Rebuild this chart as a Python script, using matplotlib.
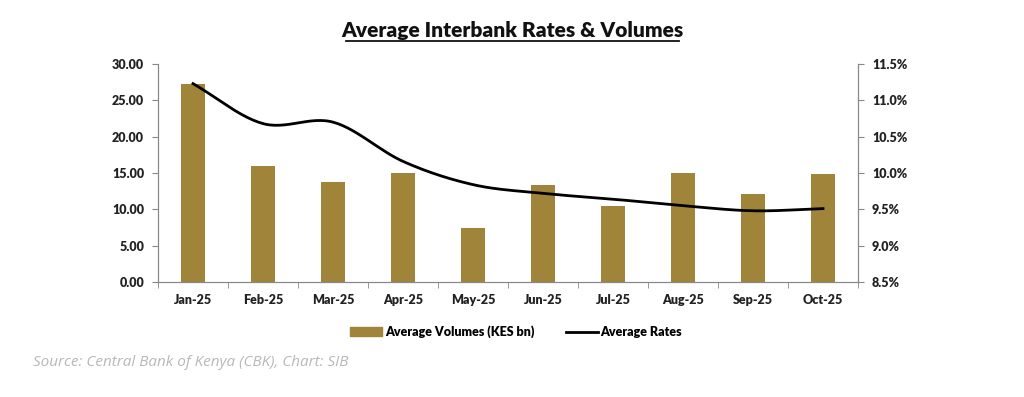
import numpy as np
import matplotlib.pyplot as plt
from matplotlib.ticker import FuncFormatter, MultipleLocator
from matplotlib.lines import Line2D
from matplotlib.patches import Patch


# DATA
months = ["Jan-25", "Feb-25", "Mar-25", "Apr-25", "May-25",
          "Jun-25", "Jul-25", "Aug-25", "Sep-25", "Oct-25"]
volumes = [27.2, 15.9, 13.8, 15.0, 7.4, 13.4, 10.5, 15.0, 12.1, 14.8]
rates = [11.23, 10.68, 10.70, 10.16, 9.84, 9.72, 9.64, 9.55, 9.48, 9.51]

BAR_COLOR = "#a0843a"
FONT = "Lato"


def smooth(x, y, steps=30):
    """Catmull-Rom curve through the points, like an Excel smoothed line."""
    x = np.asarray(x, dtype=float)
    y = np.asarray(y, dtype=float)
    px = np.concatenate([[2 * x[0] - x[1]], x, [2 * x[-1] - x[-2]]])
    py = np.concatenate([[2 * y[0] - y[1]], y, [2 * y[-1] - y[-2]]])
    t = np.linspace(0, 1, steps)
    xs, ys = [], []
    for i in range(1, len(px) - 2):
        for p, out in ((px, xs), (py, ys)):
            p0, p1, p2, p3 = p[i - 1], p[i], p[i + 1], p[i + 2]
            out.extend(0.5 * (2 * p1 + (-p0 + p2) * t
                              + (2 * p0 - 5 * p1 + 4 * p2 - p3) * t ** 2
                              + (-p0 + 3 * p1 - 3 * p2 + p3) * t ** 3))
    return np.array(xs), np.array(ys)


fig = plt.figure(figsize=(10.24, 3.97), dpi=100)
ax1 = fig.add_axes([158 / 1024, 1 - 282 / 397, 700 / 1024, 218 / 397])
ax2 = ax1.twinx()

x = np.arange(len(months))
ax1.bar(x, volumes, width=0.33, color=BAR_COLOR, zorder=2)

sx, sy = smooth(x, rates)
ax2.plot(sx, sy, color="black", linewidth=2, zorder=3)

ax1.set_xlim(-0.5, len(months) - 0.5)
ax1.set_ylim(0, 30)
ax1.yaxis.set_major_locator(MultipleLocator(5))
ax1.yaxis.set_major_formatter(FuncFormatter(lambda v, _: f"{v:.2f}"))
ax2.set_ylim(8.5, 11.5)
ax2.yaxis.set_major_locator(MultipleLocator(0.5))
ax2.yaxis.set_major_formatter(FuncFormatter(lambda v, _: f"{v:.1f}%"))

ax1.set_xticks(x)
ax1.set_xticklabels(months)
ax1.set_xticks(np.arange(-0.5, len(months)), minor=True)
ax1.tick_params(axis="x", which="major", length=0, pad=9)
ax1.tick_params(axis="x", which="minor", length=4, color="#888888")

for ax in (ax1, ax2):
    ax.spines["top"].set_visible(False)
    for side in ("left", "right", "bottom"):
        ax.spines[side].set_color("#888888")
    ax.tick_params(axis="y", length=4, color="#888888", pad=6)
    for lbl in ax.get_xticklabels() + ax.get_yticklabels():
        lbl.set_fontfamily(FONT)
        lbl.set_fontweight("heavy")
        lbl.set_fontsize(9)
        lbl.set_color("#222222")

fig.text(512 / 1024, 1 - 30 / 397, "Average Interbank Rates & Volumes",
         ha="center", va="center", fontsize=15, fontweight="heavy",
         family=FONT, color="#111111")
fig.add_artist(Line2D([346 / 1024, 679 / 1024], [1 - 41 / 397, 1 - 41 / 397],
                      color="#111111", linewidth=1.3))

handles = [Patch(color=BAR_COLOR), Line2D([], [], color="black", linewidth=2)]
fig.legend(handles, ["Average Volumes (KES bn)", "Average Rates"],
           loc="center", bbox_to_anchor=(516 / 1024, 1 - 332 / 397), ncol=2,
           frameon=False, handlelength=2.6, handletextpad=0.2, columnspacing=2.5,
           prop={"family": FONT, "weight": "heavy", "size": 9})

fig.text(33 / 1024, 1 - 362 / 397, "Source: Central Bank of Kenya (CBK), Chart: SIB",
         ha="left", va="center", fontsize=11, style="italic",
         family="Open Sans", color="#b8b8b8")

fig.savefig("out.png", dpi=100)
